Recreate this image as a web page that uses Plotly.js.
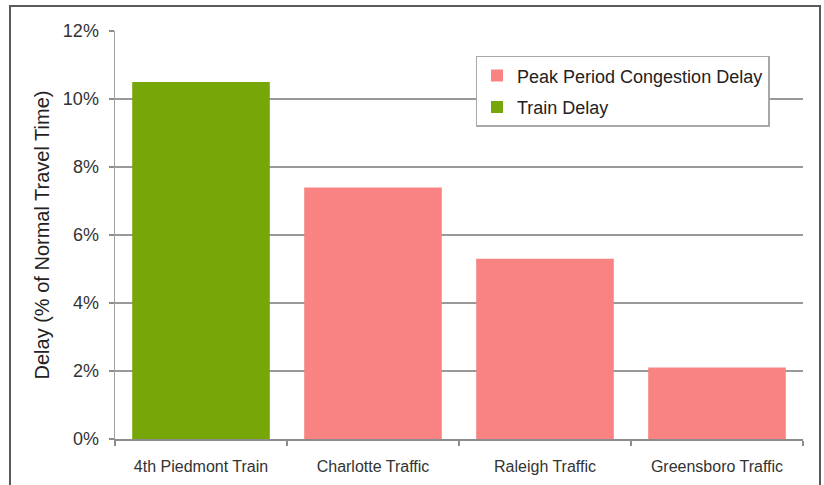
<!DOCTYPE html>
<html>
<head>
<meta charset="utf-8">
<script src="https://cdn.plot.ly/plotly-3.0.1.min.js"></script>
<style>
  html, body { margin: 0; padding: 0; background: #fff; }
  #wrap { position: relative; width: 824px; height: 485px; }
  #chart { width: 824px; height: 485px; }
  #frame {
    position: absolute; left: 9px; top: 5px; width: 808px; height: 490px;
    border: 2px solid #5a5a5a; pointer-events: none; box-sizing: content-box;
  }
</style>
</head>
<body>
<div id="wrap">
  <div id="chart"></div>
  <div id="frame"></div>
</div>
<script>
// Delay as percent of normal travel time
const categories = ["4th Piedmont Train", "Charlotte Traffic", "Raleigh Traffic", "Greensboro Traffic"];
const trafficCategories = ["Charlotte Traffic", "Raleigh Traffic", "Greensboro Traffic"];
const trafficDelay = [7.4, 5.3, 2.1];
const trainCategories = ["4th Piedmont Train"];
const trainDelay = [10.5];
const yTicks = [0, 2, 4, 6, 8, 10, 12];
const yTickLabels = ["0%", "2%", "4%", "6%", "8%", "10%", "12%"];

const FONT = "Liberation Sans, Arial, Helvetica, sans-serif";

const traces = [
  {
    type: "bar",
    name: "Peak Period Congestion Delay",
    x: trafficCategories,
    y: trafficDelay,
    marker: { color: "#f98383" },
    legendgroup: "a",
    hoverinfo: "x+y"
  },
  {
    type: "bar",
    name: "Train Delay",
    x: trainCategories,
    y: trainDelay,
    marker: { color: "#77a608" },
    legendgroup: "b",
    hoverinfo: "x+y"
  }
];

const layout = {
  width: 824,
  height: 485,
  margin: { l: 115, r: 21, t: 31, b: 46 },
  paper_bgcolor: "#ffffff",
  plot_bgcolor: "#ffffff",
  barmode: "overlay",
  bargap: 0.2,
  font: { family: FONT, color: "#333333" },
  showlegend: true,
  legend: {
    x: 0.524, y: 0.939, xanchor: "left", yanchor: "top",
    bgcolor: "#ffffff",
    bordercolor: "#a8a8a8",
    borderwidth: 1.5,
    font: { family: FONT, size: 18, color: "#222222" },
    tracegroupgap: 5,
    traceorder: "grouped"
  },
  xaxis: {
    type: "category",
    categoryorder: "array",
    categoryarray: categories,
    range: [-0.5, 3.5],
    showgrid: false,
    showline: true,
    linecolor: "#8c8c8c",
    linewidth: 1.5,
    ticks: "outside",
    tickson: "boundaries",
    ticklen: 5,
    tickwidth: 1.5,
    tickcolor: "#8c8c8c",
    ticklabelstandoff: 12,
    tickfont: { family: FONT, size: 16, color: "#333333" },
    zeroline: false,
    fixedrange: true
  },
  yaxis: {
    range: [0, 12],
    tickvals: yTicks,
    ticktext: yTickLabels,
    showgrid: true,
    gridcolor: "#999999",
    gridwidth: 1.5,
    showline: true,
    linecolor: "#a0a0a0",
    linewidth: 1.5,
    ticks: "outside",
    ticklen: 5,
    tickwidth: 1.5,
    tickcolor: "#8c8c8c",
    ticklabelstandoff: 6,
    tickfont: { family: FONT, size: 18, color: "#333333" },
    zeroline: false,
    title: {
      text: "Delay (% of Normal Travel Time)",
      font: { family: FONT, size: 20, color: "#222222" },
      standoff: 8
    },
    fixedrange: true
  }
};

Plotly.newPlot("chart", traces, layout, { displayModeBar: false, staticPlot: true });
</script>
</body>
</html>
